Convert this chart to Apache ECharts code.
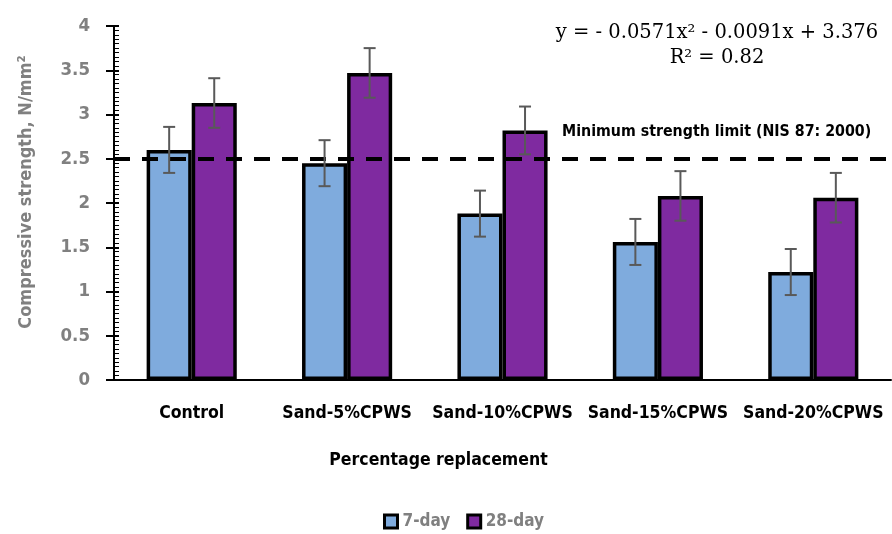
<!DOCTYPE html>
<html>
<head>
<meta charset="utf-8">
<script src="https://cdn.jsdelivr.net/npm/echarts@6/dist/echarts.min.js"></script>
<style>
html,body{margin:0;padding:0;background:#fff;}
#c{width:892px;height:534px;}
</style>
</head>
<body>
<div id="c"></div>
<script>
const categories = ['Control', 'Sand-5%CPWS', 'Sand-10%CPWS', 'Sand-15%CPWS', 'Sand-20%CPWS'];
const day7 = [2.60, 2.45, 1.88, 1.56, 1.22];
const day28 = [3.13, 3.47, 2.82, 2.08, 2.06];
const err7 = [0.26, 0.26, 0.26, 0.26, 0.26];
const err28 = [0.28, 0.28, 0.27, 0.28, 0.28];
const limitValue = 2.5;
const yTicks = [0, 0.5, 1, 1.5, 2, 2.5, 3, 3.5, 4];

const NARROW = "'Liberation Sans Narrow', 'DejaVu Sans Condensed', 'Roboto Condensed', sans-serif";
const GRAY = '#808080';

function errData(vals, errs) {
  return vals.map((v, i) => [i, v, errs[i]]);
}
function errRender(sign) {
  return function (params, api) {
    const xi = api.value(0), v = api.value(1), e = api.value(2);
    const band = api.size([1, 0])[0];
    const cx = api.coord([xi, v])[0] + sign * band * 0.145;
    const yh = api.coord([xi, v + e])[1];
    const yl = api.coord([xi, v - e])[1];
    const st = { stroke: '#595959', lineWidth: 2 };
    return {
      type: 'group',
      children: [
        { type: 'line', shape: { x1: cx, y1: yh, x2: cx, y2: yl }, style: st },
        { type: 'line', shape: { x1: cx - 6, y1: yh, x2: cx + 6, y2: yh }, style: st },
        { type: 'line', shape: { x1: cx - 6, y1: yl, x2: cx + 6, y2: yl }, style: st }
      ]
    };
  };
}

const chart = echarts.init(document.getElementById('c'), null, { renderer: 'canvas' });
chart.setOption({
  animation: false,
  grid: { left: 114, right: 1, top: 26, bottom: 154 },
  legend: {
    data: ['7-day', '28-day'],
    icon: 'rect',
    left: 378, top: 508,
    itemWidth: 13, itemHeight: 13, itemGap: 16,
    itemStyle: { borderColor: '#000', borderWidth: 3 },
    textStyle: { color: GRAY, fontFamily: NARROW, fontWeight: 'bold', fontSize: 17 }
  },
  xAxis: [{
    type: 'category',
    data: categories,
    name: 'Percentage replacement',
    nameLocation: 'middle',
    nameGap: 71,
    nameTextStyle: { color: '#000', fontFamily: NARROW, fontWeight: 'bold', fontSize: 17.5, padding: [0, 128, 0, 0] },
    axisLine: { lineStyle: { color: '#000', width: 2 } },
    axisTick: { alignWithLabel: true, length: 6, lineStyle: { color: '#000', width: 2 } },
    axisLabel: { color: '#000', fontFamily: NARROW, fontWeight: 'bold', fontSize: 17.5, margin: 24, interval: 0 }
  }, {
    type: 'category',
    data: categories,
    position: 'bottom',
    axisLine: { show: false },
    axisTick: { inside: true, length: 7, lineStyle: { color: '#000', width: 2 } },
    axisLabel: { show: false }
  }],
  yAxis: [{
    type: 'value',
    min: 0, max: 4, interval: 0.5,
    name: 'Compressive strength, N/mm²',
    nameLocation: 'middle',
    nameGap: 79,
    nameTextStyle: { color: GRAY, fontFamily: NARROW, fontWeight: 'bold', fontSize: 18, padding: [0, 0, 0, 22] },
    axisLine: { show: true, lineStyle: { color: '#000', width: 2 } },
    axisTick: { show: true, length: 8, lineStyle: { color: '#000', width: 2 } },
    axisLabel: {
      color: GRAY, fontFamily: NARROW, fontWeight: 'bold', fontSize: 18.5, margin: 24,
      formatter: v => String(yTicks[Math.round(v / 0.5)])
    },
    splitLine: { show: false }
  }, {
    type: 'value',
    min: 0, max: 4, interval: 0.5,
    position: 'left',
    axisLine: { show: false },
    axisTick: { show: true, inside: true, length: 5, lineStyle: { color: '#000', width: 2 } },
    minorTick: { show: true, splitNumber: 10, length: 5, lineStyle: { color: '#000', width: 1 } },
    axisLabel: { show: false },
    splitLine: { show: false }
  }],
  series: [{
    name: '7-day',
    type: 'bar',
    data: day7,
    barGap: '0%',
    barCategoryGap: '42%',
    itemStyle: { color: '#7FABDD', borderColor: '#000', borderWidth: 3.5 },
    markLine: {
      silent: true,
      symbol: 'none',
      label: { show: false },
      lineStyle: { color: '#000', width: 4, type: [16, 12] },
      data: [{ yAxis: limitValue }]
    }
  }, {
    name: '28-day',
    type: 'bar',
    data: day28,
    itemStyle: { color: '#7F2AA0', borderColor: '#000', borderWidth: 3.5 }
  }, {
    name: 'err7',
    type: 'custom',
    data: errData(day7, err7),
    renderItem: errRender(-1),
    z: 10,
    encode: { x: 0, y: 1 }
  }, {
    name: 'err28',
    type: 'custom',
    data: errData(day28, err28),
    renderItem: errRender(1),
    z: 10,
    encode: { x: 0, y: 1 }
  }],
  graphic: [{
    type: 'text', left: 562, top: 124,
    style: { text: 'Minimum strength limit (NIS 87: 2000)', fill: '#000', font: "bold 15.8px " + NARROW }
  }, {
    type: 'text', x: 717, y: 33,
    style: { text: 'y = - 0.0571x² - 0.0091x + 3.376', fill: '#000', font: "19.5px 'DejaVu Serif', serif", align: 'center', verticalAlign: 'middle' }
  }, {
    type: 'text', x: 717, y: 58,
    style: { text: 'R² = 0.82', fill: '#000', font: "19.5px 'DejaVu Serif', serif", align: 'center', verticalAlign: 'middle' }
  }]
});
</script>
</body>
</html>
